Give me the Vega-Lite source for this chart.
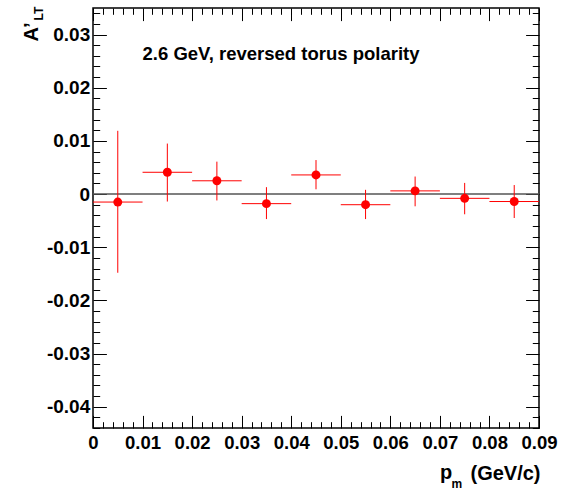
{
  "$schema": "https://vega.github.io/schema/vega-lite/v6.json",
  "width": 446,
  "height": 420,
  "autosize": {"type": "none"},
  "padding": {"left": 93, "top": 8, "right": 36, "bottom": 63},
  "background": "white",
  "config": {
    "view": {"stroke": "black", "strokeWidth": 1.5},
    "axis": {
      "domain": false,
      "grid": false,
      "labelFont": "Liberation Sans",
      "labelFontWeight": "bold",
      "labelColor": "black",
      "tickColor": "black",
      "tickWidth": 1,
      "labelOverlap": false,
      "labelFlush": false,
      "labelBound": false,
      "titleFont": "Liberation Sans",
      "titleFontWeight": "bold",
      "titleColor": "black"
    },
    "text": {"font": "Liberation Sans", "fontWeight": "bold", "color": "black"}
  },
  "datasets": {
    "asym": [
      {"pm": 0.005, "pm_lo": 0.0, "pm_hi": 0.01, "alt": -0.0015, "alt_lo": -0.0148, "alt_hi": 0.0119},
      {"pm": 0.015, "pm_lo": 0.01, "pm_hi": 0.02, "alt": 0.0041, "alt_lo": -0.0014, "alt_hi": 0.0095},
      {"pm": 0.025, "pm_lo": 0.02, "pm_hi": 0.03, "alt": 0.0025, "alt_lo": -0.0012, "alt_hi": 0.0061},
      {"pm": 0.035, "pm_lo": 0.03, "pm_hi": 0.04, "alt": -0.0018, "alt_lo": -0.0047, "alt_hi": 0.0013},
      {"pm": 0.045, "pm_lo": 0.04, "pm_hi": 0.05, "alt": 0.0036, "alt_lo": 0.0009, "alt_hi": 0.0064},
      {"pm": 0.055, "pm_lo": 0.05, "pm_hi": 0.06, "alt": -0.002, "alt_lo": -0.0047, "alt_hi": 0.0008},
      {"pm": 0.065, "pm_lo": 0.06, "pm_hi": 0.07, "alt": 0.0006, "alt_lo": -0.0023, "alt_hi": 0.0033},
      {"pm": 0.075, "pm_lo": 0.07, "pm_hi": 0.08, "alt": -0.0008, "alt_lo": -0.0038, "alt_hi": 0.0021},
      {"pm": 0.085, "pm_lo": 0.08, "pm_hi": 0.09, "alt": -0.0014, "alt_lo": -0.0045, "alt_hi": 0.0017}
    ]
  },
  "data": {"name": "asym"},
  "resolve": {"scale": {"x": "independent", "y": "independent"}},
  "layer": [
    {
      "data": {"values": [{"ref": 0}]},
      "mark": {"type": "rule", "color": "#555555", "strokeWidth": 1.5},
      "encoding": {
        "y": {
          "field": "ref", "type": "quantitative",
          "scale": {"domain": [-0.044, 0.035], "nice": false, "zero": false},
          "axis": {
            "orient": "left",
            "values": [-0.044, -0.042, -0.04, -0.038, -0.036, -0.034, -0.032, -0.03, -0.028, -0.026, -0.024, -0.022, -0.02, -0.018, -0.016, -0.014, -0.012, -0.01, -0.008, -0.006, -0.004, -0.002, 0, 0.002, 0.004, 0.006, 0.008, 0.01, 0.012, 0.014, 0.016, 0.018, 0.02, 0.022, 0.024, 0.026, 0.028, 0.03, 0.032, 0.034],
            "labelExpr": "abs(round(datum.value*1000)) % 10 == 0 ? toString(round(datum.value*100)/100) : ''",
            "tickSize": {"condition": {"test": "abs(round(datum.value*1000)) % 10 == 0", "value": -13.4}, "value": -6.7},
            "labelPadding": 16.7,
            "labelFontSize": 19,
            "title": "A’",
            "titleFontSize": 20,
            "titleAngle": 270,
            "titleAlign": "right",
            "titleBaseline": "alphabetic",
            "titleX": -56,
            "titleY": 14
          }
        }
      }
    },
    {
      "mark": {"type": "rule", "color": "red", "strokeWidth": 1},
      "encoding": {
        "x": {
          "field": "pm", "type": "quantitative",
          "scale": {"domain": [0, 0.09], "nice": false, "zero": false},
          "axis": {
            "orient": "bottom",
            "values": [0, 0.002, 0.004, 0.006, 0.008, 0.01, 0.012, 0.014, 0.016, 0.018, 0.02, 0.022, 0.024, 0.026, 0.028, 0.03, 0.032, 0.034, 0.036, 0.038, 0.04, 0.042, 0.044, 0.046, 0.048, 0.05, 0.052, 0.054, 0.056, 0.058, 0.06, 0.062, 0.064, 0.066, 0.068, 0.07, 0.072, 0.074, 0.076, 0.078, 0.08, 0.082, 0.084, 0.086, 0.088, 0.09],
            "labelExpr": "abs(round(datum.value*1000)) % 10 == 0 ? toString(round(datum.value*100)/100) : ''",
            "tickSize": {"condition": {"test": "abs(round(datum.value*1000)) % 10 == 0", "value": -12.6}, "value": -6.3},
            "labelPadding": 18,
            "labelFontSize": 18.5,
            "title": "(GeV/c)",
            "titleFontSize": 20,
            "titleAlign": "right",
            "titleBaseline": "alphabetic",
            "titleAngle": 0,
            "titleX": 447,
            "titleY": 51
          }
        },
        "y": {"field": "alt_lo", "type": "quantitative", "scale": {"domain": [-0.044, 0.035], "nice": false, "zero": false}, "axis": null},
        "y2": {"field": "alt_hi"}
      }
    },
    {
      "mark": {"type": "rule", "color": "red", "strokeWidth": 1},
      "encoding": {
        "x": {
          "field": "pm_lo", "type": "quantitative",
          "scale": {"domain": [0, 0.09], "nice": false, "zero": false},
          "axis": {
            "orient": "top",
            "values": [0, 0.002, 0.004, 0.006, 0.008, 0.01, 0.012, 0.014, 0.016, 0.018, 0.02, 0.022, 0.024, 0.026, 0.028, 0.03, 0.032, 0.034, 0.036, 0.038, 0.04, 0.042, 0.044, 0.046, 0.048, 0.05, 0.052, 0.054, 0.056, 0.058, 0.06, 0.062, 0.064, 0.066, 0.068, 0.07, 0.072, 0.074, 0.076, 0.078, 0.08, 0.082, 0.084, 0.086, 0.088, 0.09],
            "labels": false,
            "title": null,
            "tickSize": {"condition": {"test": "abs(round(datum.value*1000)) % 10 == 0", "value": -12.6}, "value": -6.3}
          }
        },
        "x2": {"field": "pm_hi"},
        "y": {
          "field": "alt", "type": "quantitative",
          "scale": {"domain": [-0.044, 0.035], "nice": false, "zero": false},
          "axis": {
            "orient": "right",
            "values": [-0.044, -0.042, -0.04, -0.038, -0.036, -0.034, -0.032, -0.03, -0.028, -0.026, -0.024, -0.022, -0.02, -0.018, -0.016, -0.014, -0.012, -0.01, -0.008, -0.006, -0.004, -0.002, 0, 0.002, 0.004, 0.006, 0.008, 0.01, 0.012, 0.014, 0.016, 0.018, 0.02, 0.022, 0.024, 0.026, 0.028, 0.03, 0.032, 0.034],
            "labels": false,
            "title": null,
            "tickSize": {"condition": {"test": "abs(round(datum.value*1000)) % 10 == 0", "value": -13.4}, "value": -6.7}
          }
        }
      }
    },
    {
      "mark": {"type": "point", "shape": "circle", "filled": true, "color": "red", "size": 80, "opacity": 1},
      "encoding": {
        "x": {"field": "pm", "type": "quantitative", "scale": {"domain": [0, 0.09], "nice": false, "zero": false}, "axis": null},
        "y": {"field": "alt", "type": "quantitative", "scale": {"domain": [-0.044, 0.035], "nice": false, "zero": false}, "axis": null}
      }
    },
    {
      "data": {"values": [{"label": "2.6 GeV, reversed torus polarity"}]},
      "mark": {"type": "text", "align": "left", "baseline": "alphabetic", "fontSize": 18.5},
      "encoding": {
        "x": {"datum": 0.01, "type": "quantitative", "scale": {"domain": [0, 0.09], "nice": false, "zero": false}, "axis": null},
        "y": {"datum": 0.02526, "type": "quantitative", "scale": {"domain": [-0.044, 0.035], "nice": false, "zero": false}, "axis": null},
        "text": {"field": "label"}
      }
    },
    {
      "data": {"values": [{"label": "LT"}]},
      "mark": {"type": "text", "align": "right", "baseline": "alphabetic", "fontSize": 12, "angle": 270},
      "encoding": {
        "x": {"datum": -0.01015, "type": "quantitative", "scale": {"domain": [0, 0.09], "nice": false, "zero": false}, "axis": null},
        "y": {"datum": 0.03523, "type": "quantitative", "scale": {"domain": [-0.044, 0.035], "nice": false, "zero": false}, "axis": null},
        "text": {"field": "label"}
      }
    },
    {
      "data": {"values": [{"label": "p"}]},
      "mark": {"type": "text", "align": "left", "baseline": "alphabetic", "fontSize": 20},
      "encoding": {
        "x": {"datum": 0.07, "type": "quantitative", "scale": {"domain": [0, 0.09], "nice": false, "zero": false}, "axis": null},
        "y": {"datum": -0.05356, "type": "quantitative", "scale": {"domain": [-0.044, 0.035], "nice": false, "zero": false}, "axis": null},
        "text": {"field": "label"}
      }
    },
    {
      "data": {"values": [{"label": "m"}]},
      "mark": {"type": "text", "align": "left", "baseline": "alphabetic", "fontSize": 12},
      "encoding": {
        "x": {"datum": 0.07232, "type": "quantitative", "scale": {"domain": [0, 0.09], "nice": false, "zero": false}, "axis": null},
        "y": {"datum": -0.05525, "type": "quantitative", "scale": {"domain": [-0.044, 0.035], "nice": false, "zero": false}, "axis": null},
        "text": {"field": "label"}
      }
    }
  ]
}
